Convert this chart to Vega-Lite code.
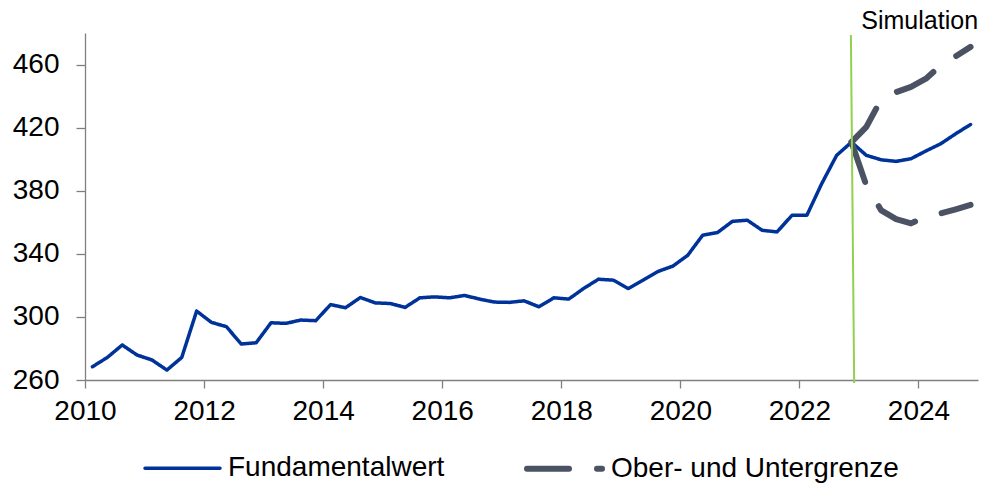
{
  "$schema": "https://vega.github.io/schema/vega-lite/v6.json",
  "width": 893,
  "height": 347,
  "autosize": {"type": "none"},
  "padding": {"left": 85, "top": 33, "right": 6, "bottom": 103},
  "background": "white",
  "config": {
    "view": {"stroke": null},
    "font": "Liberation Sans",
    "axis": {
      "labelFont": "Liberation Sans",
      "labelFontSize": 28,
      "labelColor": "#000000",
      "domainColor": "#808080",
      "domainWidth": 1.3,
      "tickColor": "#808080",
      "tickWidth": 1.3,
      "grid": false,
      "title": null
    }
  },
  "encoding": {
    "x": {
      "field": "t",
      "type": "quantitative",
      "scale": {"domain": [2010, 2025], "nice": false, "zero": false},
      "axis": {"values": [2010, 2012, 2014, 2016, 2018, 2020, 2022, 2024], "format": "d", "tickSize": 8, "labelPadding": 9, "labelFlush": false, "labelOverlap": false}
    },
    "y": {
      "field": "v",
      "type": "quantitative",
      "scale": {"domain": [260, 480], "nice": false, "zero": false},
      "axis": {"values": [260, 300, 340, 380, 420, 460], "tickSize": 9, "labelPadding": 17}
    }
  },
  "layer": [
    {
      "data": {"values": [
        {"t": 2010.125, "v": 268.4, "k": "Fundamentalwert", "s": "F"},
        {"t": 2010.375, "v": 274.3, "k": "Fundamentalwert", "s": "F"},
        {"t": 2010.625, "v": 282.2, "k": "Fundamentalwert", "s": "F"},
        {"t": 2010.875, "v": 275.8, "k": "Fundamentalwert", "s": "F"},
        {"t": 2011.125, "v": 272.7, "k": "Fundamentalwert", "s": "F"},
        {"t": 2011.375, "v": 266.3, "k": "Fundamentalwert", "s": "F"},
        {"t": 2011.625, "v": 274.3, "k": "Fundamentalwert", "s": "F"},
        {"t": 2011.875, "v": 303.7, "k": "Fundamentalwert", "s": "F"},
        {"t": 2012.125, "v": 296.5, "k": "Fundamentalwert", "s": "F"},
        {"t": 2012.375, "v": 293.8, "k": "Fundamentalwert", "s": "F"},
        {"t": 2012.625, "v": 282.8, "k": "Fundamentalwert", "s": "F"},
        {"t": 2012.875, "v": 283.6, "k": "Fundamentalwert", "s": "F"},
        {"t": 2013.125, "v": 296.3, "k": "Fundamentalwert", "s": "F"},
        {"t": 2013.375, "v": 295.9, "k": "Fundamentalwert", "s": "F"},
        {"t": 2013.625, "v": 298.0, "k": "Fundamentalwert", "s": "F"},
        {"t": 2013.875, "v": 297.6, "k": "Fundamentalwert", "s": "F"},
        {"t": 2014.125, "v": 307.8, "k": "Fundamentalwert", "s": "F"},
        {"t": 2014.375, "v": 305.8, "k": "Fundamentalwert", "s": "F"},
        {"t": 2014.625, "v": 312.3, "k": "Fundamentalwert", "s": "F"},
        {"t": 2014.875, "v": 308.9, "k": "Fundamentalwert", "s": "F"},
        {"t": 2015.125, "v": 308.5, "k": "Fundamentalwert", "s": "F"},
        {"t": 2015.375, "v": 306.0, "k": "Fundamentalwert", "s": "F"},
        {"t": 2015.625, "v": 312.1, "k": "Fundamentalwert", "s": "F"},
        {"t": 2015.875, "v": 312.7, "k": "Fundamentalwert", "s": "F"},
        {"t": 2016.125, "v": 312.1, "k": "Fundamentalwert", "s": "F"},
        {"t": 2016.375, "v": 313.6, "k": "Fundamentalwert", "s": "F"},
        {"t": 2016.625, "v": 311.3, "k": "Fundamentalwert", "s": "F"},
        {"t": 2016.875, "v": 309.4, "k": "Fundamentalwert", "s": "F"},
        {"t": 2017.125, "v": 309.2, "k": "Fundamentalwert", "s": "F"},
        {"t": 2017.375, "v": 310.2, "k": "Fundamentalwert", "s": "F"},
        {"t": 2017.625, "v": 306.4, "k": "Fundamentalwert", "s": "F"},
        {"t": 2017.875, "v": 312.1, "k": "Fundamentalwert", "s": "F"},
        {"t": 2018.125, "v": 311.3, "k": "Fundamentalwert", "s": "F"},
        {"t": 2018.375, "v": 318.0, "k": "Fundamentalwert", "s": "F"},
        {"t": 2018.625, "v": 323.9, "k": "Fundamentalwert", "s": "F"},
        {"t": 2018.875, "v": 323.3, "k": "Fundamentalwert", "s": "F"},
        {"t": 2019.125, "v": 318.0, "k": "Fundamentalwert", "s": "F"},
        {"t": 2019.375, "v": 323.3, "k": "Fundamentalwert", "s": "F"},
        {"t": 2019.625, "v": 328.8, "k": "Fundamentalwert", "s": "F"},
        {"t": 2019.875, "v": 332.2, "k": "Fundamentalwert", "s": "F"},
        {"t": 2020.125, "v": 339.1, "k": "Fundamentalwert", "s": "F"},
        {"t": 2020.375, "v": 351.8, "k": "Fundamentalwert", "s": "F"},
        {"t": 2020.625, "v": 353.5, "k": "Fundamentalwert", "s": "F"},
        {"t": 2020.875, "v": 360.6, "k": "Fundamentalwert", "s": "F"},
        {"t": 2021.125, "v": 361.3, "k": "Fundamentalwert", "s": "F"},
        {"t": 2021.375, "v": 354.9, "k": "Fundamentalwert", "s": "F"},
        {"t": 2021.625, "v": 353.9, "k": "Fundamentalwert", "s": "F"},
        {"t": 2021.875, "v": 364.4, "k": "Fundamentalwert", "s": "F"},
        {"t": 2022.125, "v": 364.4, "k": "Fundamentalwert", "s": "F"},
        {"t": 2022.375, "v": 384.5, "k": "Fundamentalwert", "s": "F"},
        {"t": 2022.625, "v": 402.4, "k": "Fundamentalwert", "s": "F"},
        {"t": 2022.875, "v": 410.8, "k": "Fundamentalwert", "s": "F"},
        {"t": 2023.125, "v": 402.4, "k": "Fundamentalwert", "s": "F"},
        {"t": 2023.375, "v": 399.6, "k": "Fundamentalwert", "s": "F"},
        {"t": 2023.625, "v": 398.6, "k": "Fundamentalwert", "s": "F"},
        {"t": 2023.875, "v": 400.3, "k": "Fundamentalwert", "s": "F"},
        {"t": 2024.125, "v": 405.2, "k": "Fundamentalwert", "s": "F"},
        {"t": 2024.375, "v": 409.8, "k": "Fundamentalwert", "s": "F"},
        {"t": 2024.625, "v": 416.1, "k": "Fundamentalwert", "s": "F"},
        {"t": 2024.875, "v": 422.0, "k": "Fundamentalwert", "s": "F"}
      ]},
      "mark": {"type": "line", "strokeCap": "round", "strokeJoin": "round"},
      "encoding": {
        "color": {
          "field": "k",
          "type": "nominal",
          "scale": {"domain": ["Fundamentalwert", "Ober- und Untergrenze"], "range": ["#003399", "#4A5263"]},
          "legend": {
            "title": null,
            "orient": "none",
            "legendX": 58,
            "legendY": 395,
            "direction": "horizontal",
            "symbolType": "stroke",
            "symbolSize": 5625,
            "labelFontSize": 28,
            "labelFont": "Liberation Sans",
            "labelColor": "#000000",
            "labelOffset": 6,
            "columnPadding": 70,
            "labelLimit": 500,
            "encode": {"symbols": {"update": {"strokeCap": {"value": "round"}}}}
          }
        },
        "strokeDash": {
          "field": "k",
          "type": "nominal",
          "scale": {"domain": ["Fundamentalwert", "Ober- und Untergrenze"], "range": [[1, 0], [42, 28]]},
          "legend": {"title": null}
        },
        "strokeWidth": {
          "field": "k",
          "type": "nominal",
          "scale": {"domain": ["Fundamentalwert", "Ober- und Untergrenze"], "range": [3.5, 6]},
          "legend": {"title": null}
        },
        "detail": {"field": "s"}
      }
    },
    {
      "data": {"values": [
        {"t": 2022.875, "v": 410.8, "k": "Ober- und Untergrenze", "s": "U"},
        {"t": 2023.125, "v": 420.5, "k": "Ober- und Untergrenze", "s": "U"},
        {"t": 2023.375, "v": 438.0, "k": "Ober- und Untergrenze", "s": "U"},
        {"t": 2023.625, "v": 442.5, "k": "Ober- und Untergrenze", "s": "U"},
        {"t": 2023.875, "v": 445.8, "k": "Ober- und Untergrenze", "s": "U"},
        {"t": 2024.125, "v": 451.0, "k": "Ober- und Untergrenze", "s": "U"},
        {"t": 2024.375, "v": 459.5, "k": "Ober- und Untergrenze", "s": "U"},
        {"t": 2024.625, "v": 465.2, "k": "Ober- und Untergrenze", "s": "U"},
        {"t": 2024.875, "v": 471.2, "k": "Ober- und Untergrenze", "s": "U"},
        {"t": 2022.875, "v": 410.8, "k": "Ober- und Untergrenze", "s": "L"},
        {"t": 2023.125, "v": 383.3, "k": "Ober- und Untergrenze", "s": "L"},
        {"t": 2023.375, "v": 367.5, "k": "Ober- und Untergrenze", "s": "L"},
        {"t": 2023.625, "v": 362.0, "k": "Ober- und Untergrenze", "s": "L"},
        {"t": 2023.875, "v": 359.3, "k": "Ober- und Untergrenze", "s": "L"},
        {"t": 2024.125, "v": 363.5, "k": "Ober- und Untergrenze", "s": "L"},
        {"t": 2024.375, "v": 365.6, "k": "Ober- und Untergrenze", "s": "L"},
        {"t": 2024.625, "v": 368.2, "k": "Ober- und Untergrenze", "s": "L"},
        {"t": 2024.875, "v": 371.0, "k": "Ober- und Untergrenze", "s": "L"}
      ]},
      "mark": {"type": "line", "strokeCap": "round", "strokeJoin": "round"},
      "encoding": {
        "color": {"field": "k", "type": "nominal"},
        "strokeDash": {"field": "k", "type": "nominal"},
        "strokeWidth": {"field": "k", "type": "nominal"},
        "detail": {"field": "s"}
      }
    },
    {
      "data": {"values": [{"t": 2022.865, "v": 478.7, "t2": 2022.92, "v2": 258.1}]},
      "mark": {"type": "rule", "color": "#92D050", "strokeWidth": 2},
      "encoding": {
        "x": {"field": "t", "type": "quantitative"},
        "y": {"field": "v", "type": "quantitative"},
        "x2": {"field": "t2"},
        "y2": {"field": "v2"}
      }
    },
    {
      "data": {"values": [{"t": 2023.04, "v": 482.8, "label": "Simulation"}]},
      "mark": {"type": "text", "align": "left", "baseline": "alphabetic", "fontSize": 25, "font": "Liberation Sans", "color": "#000000"},
      "encoding": {
        "x": {"field": "t", "type": "quantitative"},
        "y": {"field": "v", "type": "quantitative"},
        "text": {"field": "label"}
      }
    }
  ]
}
